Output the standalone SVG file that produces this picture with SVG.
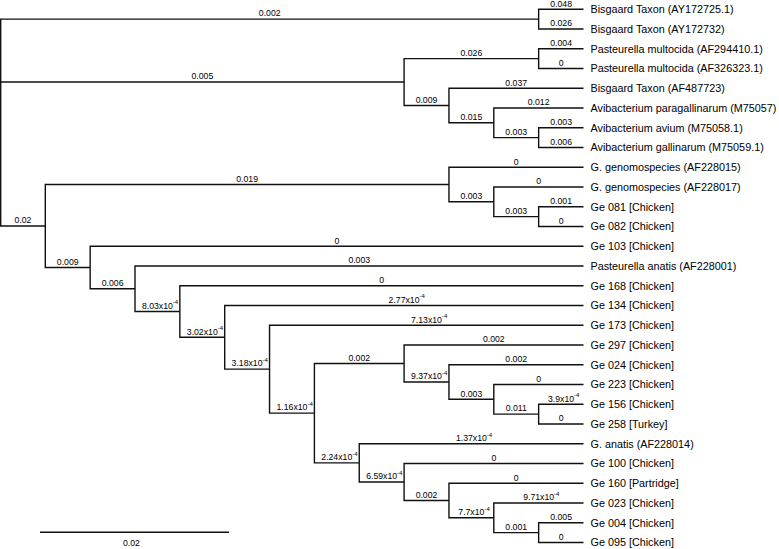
<svg xmlns="http://www.w3.org/2000/svg" width="779" height="549" viewBox="0 0 779 549">
<style>
.br{fill:none;stroke:#111;stroke-width:1.4;stroke-linejoin:miter;stroke-linecap:butt}
.bl{font-family:"Liberation Sans",Arial,sans-serif;font-size:8.7px;fill:#000;text-anchor:middle}
.bs{font-family:"Liberation Sans",Arial,sans-serif;font-size:8.7px;fill:#000}
.sp{font-size:6px}
.lf{font-family:"Liberation Sans",Arial,sans-serif;font-size:10.8px;fill:#000}
</style>
<rect width="779" height="549" fill="#fff"/>
<g id="connectors" class="br">
<path d="M538.65 19.08H0.7V225.97H45.3M0.7 82.03H404.1"/>
<path d="M583.5 9.2H538.65V28.95H583.5"/>
<path d="M538.65 58.58H404.1V105.48H448.95"/>
<path d="M583.5 48.7H538.65V68.45H583.5"/>
<path d="M583.5 88.2H448.95V122.76H493.8"/>
<path d="M583.5 107.95H493.8V137.58H538.65"/>
<path d="M583.5 127.7H538.65V147.45H583.5"/>
<path d="M448.95 184.48H45.3V267.46H90.15"/>
<path d="M583.5 167.2H448.95V201.76H493.8"/>
<path d="M583.5 186.95H493.8V216.58H538.65"/>
<path d="M583.5 206.7H538.65V226.45H583.5"/>
<path d="M583.5 246.2H90.15V288.73H135"/>
<path d="M583.5 265.95H135V311.5H179.85"/>
<path d="M583.5 285.7H179.85V337.31H224.7"/>
<path d="M583.5 305.45H224.7V369.17H269.55"/>
<path d="M583.5 325.2H269.55V413.15H314.4"/>
<path d="M404.1 363.46H314.4V462.83H359.25"/>
<path d="M583.5 344.95H404.1V381.98H448.95"/>
<path d="M583.5 364.7H448.95V399.26H493.8"/>
<path d="M583.5 384.45H493.8V414.08H538.65"/>
<path d="M583.5 404.2H538.65V423.95H583.5"/>
<path d="M583.5 443.7H359.25V481.96H404.1"/>
<path d="M583.5 463.45H404.1V500.48H448.95"/>
<path d="M583.5 483.2H448.95V517.76H493.8"/>
<path d="M583.5 502.95H493.8V532.58H538.65"/>
<path d="M583.5 522.7H538.65V542.45H583.5"/>
</g>
<g id="branch-labels">
<text class="bl" x="269.7" y="16.38">0.002</text>
<text class="bl" x="202.4" y="79.33">0.005</text>
<text class="bl" x="23" y="223.27">0.02</text>
<text class="bl" x="561.1" y="6.5">0.048</text>
<text class="bl" x="561.1" y="26.25">0.026</text>
<text class="bl" x="471.4" y="55.88">0.026</text>
<text class="bl" x="426.5" y="102.78">0.009</text>
<text class="bl" x="561.1" y="46">0.004</text>
<text class="bl" x="561.1" y="65.75">0</text>
<text class="bl" x="516.2" y="85.5">0.037</text>
<text class="bl" x="471.4" y="120.06">0.015</text>
<text class="bl" x="538.65" y="105.25">0.012</text>
<text class="bl" x="516.2" y="134.88">0.003</text>
<text class="bl" x="561.1" y="125">0.003</text>
<text class="bl" x="561.1" y="144.75">0.006</text>
<text class="bl" x="247.1" y="181.78">0.019</text>
<text class="bl" x="67.7" y="264.76">0.009</text>
<text class="bl" x="516.2" y="164.5">0</text>
<text class="bl" x="471.4" y="199.06">0.003</text>
<text class="bl" x="538.65" y="184.25">0</text>
<text class="bl" x="516.2" y="213.88">0.003</text>
<text class="bl" x="561.1" y="204">0.001</text>
<text class="bl" x="561.1" y="223.75">0</text>
<text class="bl" x="336.8" y="243.5">0</text>
<text class="bl" x="112.6" y="286.03">0.006</text>
<text class="bl" x="359.25" y="263.25">0.003</text>
<text class="bs" x="141.9" y="308.8">8.03x10<tspan class="sp" dy="-4.5">-4</tspan></text>
<text class="bl" x="381.7" y="283">0</text>
<text class="bs" x="186.8" y="334.61">3.02x10<tspan class="sp" dy="-4.5">-4</tspan></text>
<text class="bs" x="388.6" y="302.75">2.77x10<tspan class="sp" dy="-4.5">-4</tspan></text>
<text class="bs" x="231.6" y="366.47">3.18x10<tspan class="sp" dy="-4.5">-4</tspan></text>
<text class="bs" x="411" y="322.5">7.13x10<tspan class="sp" dy="-4.5">-4</tspan></text>
<text class="bs" x="276.5" y="410.45">1.16x10<tspan class="sp" dy="-4.5">-4</tspan></text>
<text class="bl" x="359.25" y="360.76">0.002</text>
<text class="bs" x="321.3" y="460.13">2.24x10<tspan class="sp" dy="-4.5">-4</tspan></text>
<text class="bl" x="493.8" y="342.25">0.002</text>
<text class="bs" x="411" y="379.28">9.37x10<tspan class="sp" dy="-4.5">-4</tspan></text>
<text class="bl" x="516.2" y="362">0.002</text>
<text class="bl" x="471.4" y="396.56">0.003</text>
<text class="bl" x="538.65" y="381.75">0</text>
<text class="bl" x="516.2" y="411.38">0.011</text>
<text class="bs" x="548" y="401.5">3.9x10<tspan class="sp" dy="-4.5">-4</tspan></text>
<text class="bl" x="561.1" y="421.25">0</text>
<text class="bs" x="455.9" y="441">1.37x10<tspan class="sp" dy="-4.5">-4</tspan></text>
<text class="bs" x="366.2" y="479.26">6.59x10<tspan class="sp" dy="-4.5">-4</tspan></text>
<text class="bl" x="493.8" y="460.75">0</text>
<text class="bl" x="426.5" y="497.78">0.002</text>
<text class="bl" x="516.2" y="480.5">0</text>
<text class="bs" x="458.3" y="515.06">7.7x10<tspan class="sp" dy="-4.5">-4</tspan></text>
<text class="bs" x="523.15" y="500.25">9.71x10<tspan class="sp" dy="-4.5">-4</tspan></text>
<text class="bl" x="516.2" y="529.88">0.001</text>
<text class="bl" x="561.1" y="520">0.005</text>
<text class="bl" x="561.1" y="539.75">0</text>
</g>
<g id="leaf-AY172725"><text class="lf" x="590.5" y="13">Bisgaard Taxon (AY172725.1)</text></g>
<g id="leaf-AY172732"><text class="lf" x="590.5" y="32.75">Bisgaard Taxon (AY172732)</text></g>
<g id="leaf-AF294410"><text class="lf" x="590.5" y="52.5">Pasteurella multocida (AF294410.1)</text></g>
<g id="leaf-AF326323"><text class="lf" x="590.5" y="72.25">Pasteurella multocida (AF326323.1)</text></g>
<g id="leaf-AF487723"><text class="lf" x="590.5" y="92">Bisgaard Taxon (AF487723)</text></g>
<g id="leaf-M75057"><text class="lf" x="590.5" y="111.75">Avibacterium paragallinarum (M75057)</text></g>
<g id="leaf-M75058"><text class="lf" x="590.5" y="131.5">Avibacterium avium (M75058.1)</text></g>
<g id="leaf-M75059"><text class="lf" x="590.5" y="151.25">Avibacterium gallinarum (M75059.1)</text></g>
<g id="leaf-AF228015"><text class="lf" x="590.5" y="171">G. genomospecies (AF228015)</text></g>
<g id="leaf-AF228017"><text class="lf" x="590.5" y="190.75">G. genomospecies (AF228017)</text></g>
<g id="leaf-Ge081"><text class="lf" x="590.5" y="210.5">Ge 081 [Chicken]</text></g>
<g id="leaf-Ge082"><text class="lf" x="590.5" y="230.25">Ge 082 [Chicken]</text></g>
<g id="leaf-Ge103"><text class="lf" x="590.5" y="250">Ge 103 [Chicken]</text></g>
<g id="leaf-AF228001"><text class="lf" x="590.5" y="269.75">Pasteurella anatis (AF228001)</text></g>
<g id="leaf-Ge168"><text class="lf" x="590.5" y="289.5">Ge 168 [Chicken]</text></g>
<g id="leaf-Ge134"><text class="lf" x="590.5" y="309.25">Ge 134 [Chicken]</text></g>
<g id="leaf-Ge173"><text class="lf" x="590.5" y="329">Ge 173 [Chicken]</text></g>
<g id="leaf-Ge297"><text class="lf" x="590.5" y="348.75">Ge 297 [Chicken]</text></g>
<g id="leaf-Ge024"><text class="lf" x="590.5" y="368.5">Ge 024 [Chicken]</text></g>
<g id="leaf-Ge223"><text class="lf" x="590.5" y="388.25">Ge 223 [Chicken]</text></g>
<g id="leaf-Ge156"><text class="lf" x="590.5" y="408">Ge 156 [Chicken]</text></g>
<g id="leaf-Ge258"><text class="lf" x="590.5" y="427.75">Ge 258 [Turkey]</text></g>
<g id="leaf-AF228014"><text class="lf" x="590.5" y="447.5">G. anatis (AF228014)</text></g>
<g id="leaf-Ge100"><text class="lf" x="590.5" y="467.25">Ge 100 [Chicken]</text></g>
<g id="leaf-Ge160"><text class="lf" x="590.5" y="487">Ge 160 [Partridge]</text></g>
<g id="leaf-Ge023"><text class="lf" x="590.5" y="506.75">Ge 023 [Chicken]</text></g>
<g id="leaf-Ge004"><text class="lf" x="590.5" y="526.5">Ge 004 [Chicken]</text></g>
<g id="leaf-Ge095"><text class="lf" x="590.5" y="546.25">Ge 095 [Chicken]</text></g>
<g id="scale-bar">
<path class="br" d="M40 532.3H229"/>
<text class="bl" x="131.5" y="545.8">0.02</text>
</g>
</svg>
